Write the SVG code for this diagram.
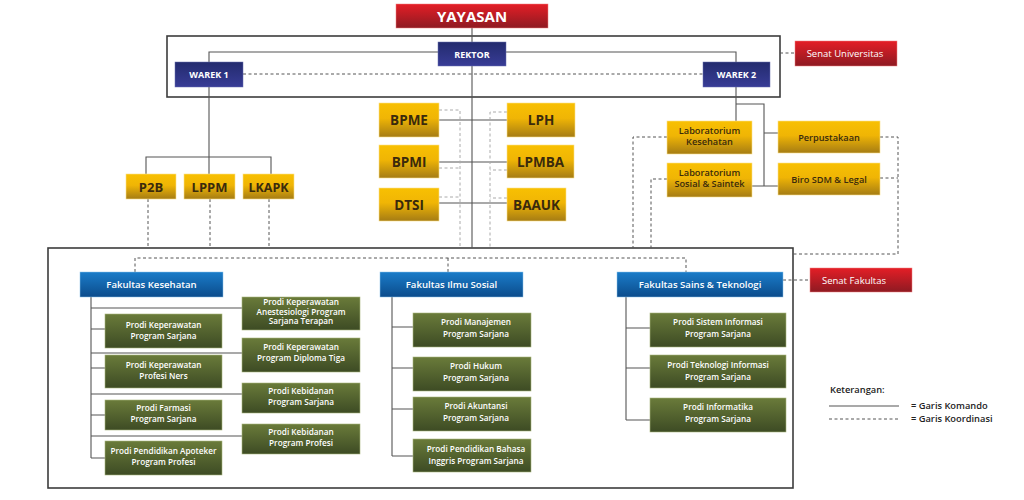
<svg xmlns="http://www.w3.org/2000/svg" width="1024" height="500" viewBox="0 0 1024 500">
<defs>
<linearGradient id="gRed" x1="0" y1="0" x2="0" y2="1"><stop offset="0" stop-color="#e41e26"/><stop offset="1" stop-color="#8e1a22"/></linearGradient>
<linearGradient id="gNavy" x1="0" y1="0" x2="0" y2="1"><stop offset="0" stop-color="#232b6e"/><stop offset="1" stop-color="#383c96"/></linearGradient>
<linearGradient id="gYel" x1="0" y1="0" x2="0" y2="1"><stop offset="0" stop-color="#f8c002"/><stop offset="0.45" stop-color="#f0b505"/><stop offset="1" stop-color="#a57c14"/></linearGradient>
<linearGradient id="gBlue" x1="0" y1="0" x2="0" y2="1"><stop offset="0" stop-color="#1a7cc9"/><stop offset="1" stop-color="#0c4c8c"/></linearGradient>
<linearGradient id="gGreen" x1="0" y1="0" x2="0" y2="1"><stop offset="0" stop-color="#6a7b3a"/><stop offset="1" stop-color="#3d4b24"/></linearGradient>
<style>
.red{fill:url(#gRed);stroke:#f08080;stroke-width:0.5}
.navy{fill:url(#gNavy);stroke:#6a6fb0;stroke-width:0.5}
.yel{fill:url(#gYel);stroke:#fbe08a;stroke-width:0.6}
.blue{fill:url(#gBlue);stroke:#8cc3ea;stroke-width:0.5}
.green{fill:url(#gGreen);stroke:#a9b57e;stroke-width:0.6}
.frame{fill:none;stroke:#3c3c3c;stroke-width:1.6}
.cmd{fill:none;stroke:#555;stroke-width:1.1}
.crd{fill:none;stroke:#555;stroke-width:1;stroke-dasharray:3 2.5}
.crdl{fill:none;stroke:#aaa;stroke-width:1;stroke-dasharray:3 2.5}
text{font-family:"Open Sans","Noto Sans",sans-serif;text-anchor:middle}
.tw{fill:#fff;font-weight:bold}
.tb{fill:#3a2a0c;font-weight:bold}
.tm{fill:#3a2a0c;font-weight:600}
.tp{fill:#fff;font-size:8.2px;font-weight:600}
.tl{fill:#222;font-size:9.3px;font-weight:600;text-anchor:start}
</style>
</defs>
<rect width="1024" height="500" fill="#fff"/>

<!-- frames -->
<rect class="frame" x="167" y="36" width="613" height="61"/>
<rect class="frame" x="48" y="248" width="745" height="240"/>

<g id="connectors">
<!-- command lines -->
<path class="cmd" d="M472 28V42 M472 66V248"/>
<path class="cmd" d="M209 62V52H438 M506 52H736V62"/>
<path class="cmd" d="M209 87V157 M146 174V157H271V174 M209 157V174"/>
<path class="cmd" d="M439 120H507 M439 162H507 M439 203H507"/>
<path class="cmd" d="M736 87V121 M736 104H764V186 M764 133H778 M752 186H778"/>
<!-- faculty children -->
<path class="cmd" d="M91 297V458 M91 308H242 M91 329H105 M91 353H242 M91 368H105 M91 394H242 M91 415H105 M91 436H242 M91 458H105"/>
<path class="cmd" d="M392 297V456 M392 327H413 M392 368H413 M392 409H413 M392 456H413"/>
<path class="cmd" d="M626 297V420 M626 328H650 M626 368H650 M626 420H650"/>
<!-- coordination -->
<path class="crd" d="M243 74H703"/>
<path class="crd" d="M780 53H795"/>
<path class="crd" d="M148 199V248 M210 199V248 M269 199V248"/>
<path class="crdl" d="M439 110H460V248 M439 168H460 M439 197H460"/>
<path class="crdl" d="M507 112H490V248 M507 170H490 M507 198H490"/>
<path class="crd" d="M667 137H633V248 M667 179H651V248"/>
<path class="crd" d="M880 137H898V254H793 M880 178H898"/>
<path class="crd" d="M135 272V258H686V272 M448 258V272"/>
<path class="crd" d="M783 280H810"/>
</g>

<g id="yayasan"><rect class="red" x="396" y="4" width="152" height="24"/><text class="tw" x="472" y="21.5" font-size="15">YAYASAN</text></g>
<g id="rektor"><rect class="navy" x="438" y="42" width="68" height="24"/><text class="tw" x="472" y="57.5" font-size="9">REKTOR</text></g>
<g id="warek1"><rect class="navy" x="175" y="62" width="68" height="25"/><text class="tw" x="209" y="78" font-size="9">WAREK 1</text></g>
<g id="warek2"><rect class="navy" x="703" y="62" width="67" height="25"/><text class="tw" x="736.5" y="78" font-size="9">WAREK 2</text></g>
<g id="senat-univ"><rect class="red" x="795" y="41" width="102" height="25"/><text fill="#fff" x="845" y="57" font-size="9.5" font-weight="500">Senat Universitas</text></g>

<g id="p2b"><rect class="yel" x="126" y="174" width="50" height="25"/><text class="tb" x="151" y="191.5" font-size="13">P2B</text></g>
<g id="lppm"><rect class="yel" x="184" y="174" width="51" height="25"/><text class="tb" x="209.5" y="191.5" font-size="13">LPPM</text></g>
<g id="lkapk"><rect class="yel" x="243" y="174" width="51" height="25"/><text class="tb" x="268.5" y="191.5" font-size="12.5">LKAPK</text></g>

<g id="bpme"><rect class="yel" x="379" y="103" width="60" height="34"/><text class="tb" x="409" y="125" font-size="13.5">BPME</text></g>
<g id="bpmi"><rect class="yel" x="379" y="145" width="60" height="33"/><text class="tb" x="409" y="166.5" font-size="13.5">BPMI</text></g>
<g id="dtsi"><rect class="yel" x="379" y="188" width="60" height="33"/><text class="tb" x="409" y="209.5" font-size="13.5">DTSI</text></g>
<g id="lph"><rect class="yel" x="507" y="103" width="68" height="34"/><text class="tb" x="541" y="125" font-size="13.5">LPH</text></g>
<g id="lpmba"><rect class="yel" x="507" y="145" width="67" height="33"/><text class="tb" x="540.5" y="166.5" font-size="13.5">LPMBA</text></g>
<g id="baauk"><rect class="yel" x="507" y="188" width="59" height="33"/><text class="tb" x="536.5" y="209.5" font-size="13.5">BAAUK</text></g>

<g id="lab-kes"><rect class="yel" x="667" y="121" width="85" height="33"/><text class="tm" x="709.5" y="134" font-size="9.2">Laboratorium</text><text class="tm" x="709.5" y="145" font-size="9.2">Kesehatan</text></g>
<g id="lab-sos"><rect class="yel" x="667" y="163" width="85" height="34"/><text class="tm" x="709.5" y="176" font-size="9.2">Laboratorium</text><text class="tm" x="709.5" y="187" font-size="9.2">Sosial &amp; Saintek</text></g>
<g id="perpus"><rect class="yel" x="778" y="121" width="102" height="32"/><text class="tm" x="829" y="140.5" font-size="9.2">Perpustakaan</text></g>
<g id="biro"><rect class="yel" x="778" y="163" width="102" height="32"/><text class="tm" x="829" y="182.5" font-size="9.2">Biro SDM &amp; Legal</text></g>

<g id="fak-kes"><rect class="blue" x="80" y="272" width="143" height="25"/><text fill="#fff" x="151.5" y="288" font-size="9.6" font-weight="600">Fakultas Kesehatan</text></g>
<g id="fak-is"><rect class="blue" x="380" y="272" width="143" height="25"/><text fill="#fff" x="451.5" y="288" font-size="9.6" font-weight="600">Fakultas Ilmu Sosial</text></g>
<g id="fak-st"><rect class="blue" x="617" y="272" width="166" height="25"/><text fill="#fff" x="700" y="288" font-size="9.6" font-weight="600">Fakultas Sains &amp; Teknologi</text></g>
<g id="senat-fak"><rect class="red" x="810" y="268" width="102" height="24"/><text fill="#fff" x="854" y="283.5" font-size="9.5" font-weight="500">Senat Fakultas</text></g>

<!-- Fakultas Kesehatan prodi -->
<g id="p-kep-s"><rect class="green" x="105" y="314" width="117" height="34"/><text class="tp" x="163.5" y="328">Prodi Keperawatan</text><text class="tp" x="163.5" y="339">Program Sarjana</text></g>
<g id="p-kep-ners"><rect class="green" x="105" y="355" width="117" height="33"/><text class="tp" x="163.5" y="368">Prodi Keperawatan</text><text class="tp" x="163.5" y="379">Profesi Ners</text></g>
<g id="p-farmasi"><rect class="green" x="105" y="400" width="117" height="30"/><text class="tp" x="163.5" y="411">Prodi Farmasi</text><text class="tp" x="163.5" y="422">Program Sarjana</text></g>
<g id="p-apoteker"><rect class="green" x="105" y="441" width="117" height="34"/><text class="tp" x="163.5" y="454">Prodi Pendidikan Apoteker</text><text class="tp" x="163.5" y="465">Program Profesi</text></g>
<g id="p-anest"><rect class="green" x="242" y="297" width="118" height="33"/><text class="tp" x="301" y="305">Prodi Keperawatan</text><text class="tp" x="301" y="314.5">Anestesiologi Program</text><text class="tp" x="301" y="324">Sarjana Terapan</text></g>
<g id="p-d3"><rect class="green" x="242" y="338" width="118" height="34"/><text class="tp" x="301" y="350">Prodi Keperawatan</text><text class="tp" x="301" y="361">Program Diploma Tiga</text></g>
<g id="p-bid-s"><rect class="green" x="242" y="383" width="118" height="30"/><text class="tp" x="301" y="394">Prodi Kebidanan</text><text class="tp" x="301" y="405">Program Sarjana</text></g>
<g id="p-bid-p"><rect class="green" x="242" y="424" width="118" height="30"/><text class="tp" x="301" y="435">Prodi Kebidanan</text><text class="tp" x="301" y="446">Program Profesi</text></g>

<!-- FIS prodi -->
<g id="p-manaj"><rect class="green" x="413" y="313" width="118" height="34"/><text class="tp" x="476" y="325">Prodi Manajemen</text><text class="tp" x="476" y="337">Program Sarjana</text></g>
<g id="p-hukum"><rect class="green" x="413" y="357" width="118" height="34"/><text class="tp" x="476" y="369">Prodi Hukum</text><text class="tp" x="476" y="381">Program Sarjana</text></g>
<g id="p-akun"><rect class="green" x="413" y="397" width="118" height="34"/><text class="tp" x="476" y="409">Prodi Akuntansi</text><text class="tp" x="476" y="421">Program Sarjana</text></g>
<g id="p-bing"><rect class="green" x="413" y="439" width="118" height="33"/><text class="tp" x="476" y="452">Prodi Pendidikan Bahasa</text><text class="tp" x="476" y="464">Inggris Program Sarjana</text></g>

<!-- FST prodi -->
<g id="p-si"><rect class="green" x="650" y="313" width="136" height="34"/><text class="tp" x="718" y="325">Prodi Sistem Informasi</text><text class="tp" x="718" y="337">Program Sarjana</text></g>
<g id="p-ti"><rect class="green" x="650" y="355" width="136" height="33"/><text class="tp" x="718" y="368">Prodi Teknologi Informasi</text><text class="tp" x="718" y="380">Program Sarjana</text></g>
<g id="p-if"><rect class="green" x="650" y="398" width="136" height="34"/><text class="tp" x="718" y="410">Prodi Informatika</text><text class="tp" x="718" y="422">Program Sarjana</text></g>

<g id="legend">
<text class="tl" x="830" y="393">Keterangan:</text>
<path class="cmd" d="M829 406H899"/>
<path class="crd" d="M829 419H899"/>
<text class="tl" x="911" y="408.5">= Garis Komando</text>
<text class="tl" x="911" y="422">= Garis Koordinasi</text>
</g>
</svg>
